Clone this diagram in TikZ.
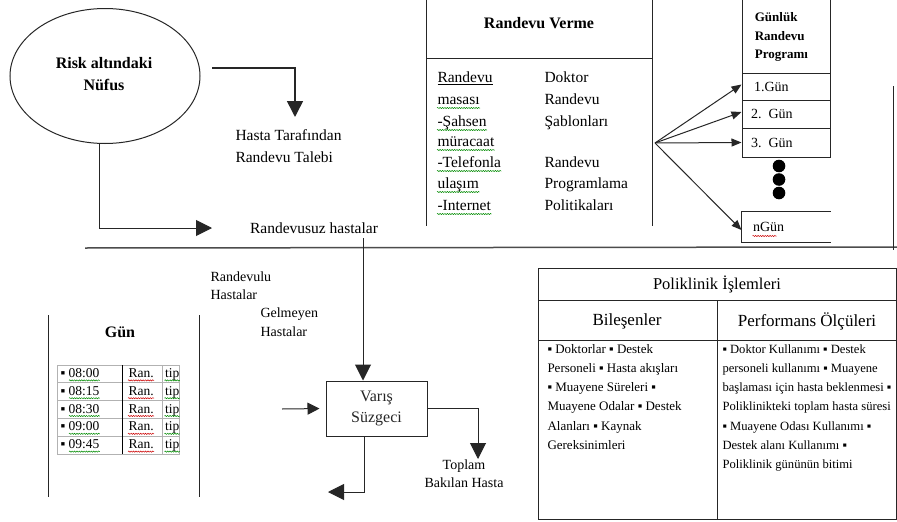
\documentclass[tikz,border=0pt]{standalone}
\usepackage{fontspec}
\setmainfont{Liberation Serif}
\usetikzlibrary{arrows.meta,shapes.geometric,decorations.pathmorphing}
\begin{document}
\begin{tikzpicture}[x=1pt,y=-1pt,line width=1pt,draw=black!85,
  bigtip/.style={-{Triangle[length=16pt,width=16pt]}},
  smalltip/.style={-{Triangle[length=10pt,width=8pt]}},
  midtip/.style={-{Triangle[length=12pt,width=12pt]}},
  txt/.style={inner sep=0pt,font=\fontsize{15.5}{22}\selectfont},
  ln/.style={inner sep=0pt,text height=11pt,text depth=4pt,anchor=west,font=\fontsize{15.5}{20}\selectfont},
  cellln/.style={inner sep=0pt,text height=10pt,text depth=3pt,anchor=west,font=\fontsize{13.5}{15}\selectfont},
  bodyln/.style={inner sep=0pt,text height=9pt,text depth=3pt,anchor=west,font=\fontsize{13}{19}\selectfont},
  bodylnr/.style={bodyln,font=\fontsize{12.6}{19}\selectfont},
  gcell/.style={draw,minimum width=88pt,text width=70pt,inner xsep=9pt,inner ysep=0pt,align=left,font=\fontsize{14}{16}\selectfont},
  sqg/.style={draw=green!55!black,line width=0.5pt,decorate,decoration={snake,amplitude=0.6pt,segment length=2.4pt}},
  sqr/.style={draw=red!80!black,line width=0.5pt,decorate,decoration={snake,amplitude=0.6pt,segment length=2.4pt}}
]
\useasboundingbox (0,0) rectangle (897,522);
\fill[white] (0,0) rectangle (897,522);

% --- Risk population ellipse
\node[draw,ellipse,minimum width=190pt,minimum height=135pt] (risk) at (105,76) {};
\node[align=center,font=\bfseries\fontsize{16}{22}\selectfont] (risktxt) at (104,74) {Risk altındaki\\Nüfus};

\coordinate (a1s) at (212,68);
\coordinate (a1e) at (295,117);
\draw[bigtip,line width=1.6pt] (a1s) -| (a1e);
\node[txt,align=left,anchor=west] (hasta) at (235,146) {Hasta Tarafından\\Randevu Talebi};

\coordinate (a2e) at (212,228);
\draw[bigtip] ([xshift=-6pt]risk.south) |- (a2e);
\node[txt] (rsuz) at (314,228) {Randevusuz hastalar};

% separator
\coordinate (sepL) at (85,248);
\coordinate (sepR) at (897,247);
\draw[line width=1.5pt,draw=black!70] (sepL) -- (sepR);

% --- Randevu Verme
\draw (426,0) -- (426,226);
\draw (652,0) -- (652,226);
\draw (426,58) -- (652,58);
\node[font=\bfseries\fontsize{16}{20}\selectfont] (rv) at (539,23) {Randevu Verme};
\node[ln] (l1) at (437,79) {\underline{Randevu}};
\node[ln] (l2) at (437,101) {masası};
\node[ln] (l3) at (437,123) {-Şahsen};
\node[ln] (l4) at (437,143) {müracaat};
\node[ln] (l5) at (437,164) {-Telefonla};
\node[ln] (l6) at (437,185) {ulaşım};
\node[ln] (l7) at (437,207) {-Internet};
\foreach \n in {l2,l3,l4,l5,l6,l7}
  \draw[sqg] ([yshift=1pt]\n.south west) -- ([yshift=1pt]\n.south east);
\node[ln] (r1) at (544,79) {Doktor};
\node[ln] (r2) at (544,101) {Randevu};
\node[ln] (r3) at (544,123) {Şablonları};
\node[ln] (r4) at (544,164) {Randevu};
\node[ln] (r5) at (544,185) {Programlama};
\node[ln] (r6) at (544,207) {Politikaları};

% --- Günlük Randevu Programı
\draw (742,0) -- (742,157);
\draw (830,0) -- (830,157);
\node[anchor=west,align=left,font=\bfseries\fontsize{13}{18.5}\selectfont] (gtitle) at (751,37) {Günlük\\Randevu\\Programı};
\node[gcell,minimum height=27pt] (g1) at (786,86.5) {\hspace*{3pt}1.Gün};
\node[gcell,minimum height=28pt] (g2) at (786,114) {2. Gün};
\node[gcell,minimum height=29pt] (g3) at (786,142.5) {3. Gün};
\fill (779,166) circle (6.3pt);
\fill (779,179.5) circle (6.3pt);
\fill (779,193) circle (6.3pt);
\node[gcell,draw=none,minimum height=30pt] (gn) at (786,227) {\hspace*{2pt}nGün};
\draw (gn.north east) -- (gn.north west) -- (gn.south west) -- (gn.south east);
\draw[sqr] ([xshift=11pt,yshift=-9pt]gn.west) -- ([xshift=35pt,yshift=-9pt]gn.west);

\coordinate (fan) at (655,143);
\draw[smalltip] (fan) -- ([yshift=2pt]g1.west);
\draw[smalltip] (fan) -- ([yshift=2pt]g2.west);
\draw[smalltip] (fan) -- (g3.west);
\draw[smalltip] (fan) -- ([yshift=-3pt]gn.west);

\draw (893,86) -- (893,250);

% --- Gün block
\draw (48,315) -- (48,497);
\draw (199,315) -- (199,497);
\node[font=\bfseries\fontsize{16}{20}\selectfont] (gun) at (120,332) {Gün};
\draw[draw=gray!60,line width=0.8pt] (57,365) rectangle (179,454);
\foreach \yy in {382.8,400.6,418.4,436.2}
  \draw[draw=gray!60,line width=0.8pt] (57,\yy) -- (179,\yy);
\draw[draw=gray!60,line width=0.8pt] (162,365) -- (162,454);
\draw[draw=black,line width=1pt] (122,365) -- (122,454);
\foreach \t [count=\i] in {08:00,08:15,08:30,09:00,09:45} {
  \node[cellln] (t\i) at (60,{365+17.8*\i-8.9}) {▪ \t};
  \node[cellln] (ra\i) at (128,{365+17.8*\i-8.9}) {Ran.};
  \node[cellln] (tp\i) at (164.5,{365+17.8*\i-8.9}) {tip};
  \draw[sqg] ([xshift=9pt,yshift=0.5pt]t\i.south west) -- ([yshift=0.5pt]t\i.south east);
  \draw[sqr] ([yshift=0.5pt]ra\i.south west) -- ([yshift=0.5pt]ra\i.south east);
  \draw[sqg] ([yshift=0.5pt]tp\i.south west) -- ([yshift=0.5pt]tp\i.south east);
}

\node[anchor=west,align=left,inner sep=0pt,font=\fontsize{14}{18}\selectfont] (rvlu) at (210,286) {Randevulu\\Hastalar};
\node[anchor=west,align=left,inner sep=0pt,font=\fontsize{14}{19}\selectfont] (gelm) at (260,322) {Gelmeyen\\Hastalar};

% --- Varış Süzgeci
\node[draw,minimum width=101pt,minimum height=55pt,align=center,text=black!85,font=\fontsize{16}{21}\selectfont] (varis) at (376.5,408.5) {Varış\\Süzgeci};
\coordinate (vtop) at (363,238);
\draw[bigtip] (vtop) -- ([xshift=-13.5pt]varis.north);
\coordinate (inL) at (282,409);
\draw[midtip,shorten >=6pt] (inL) -- (varis.west);
\coordinate (toptip) at (478,459);
\draw[bigtip] (varis.east) -| (toptip);
\node[align=center,inner sep=0pt,font=\fontsize{14}{18}\selectfont] (toplam) at (464,474) {Toplam\\Bakılan Hasta};
\coordinate (bottip) at (328,492);
\draw[bigtip] ([xshift=-12.5pt]varis.south) |- (bottip);

% --- Poliklinik İşlemleri
\draw (538,268) rectangle (896,519);
\draw (538,300) -- (896,300);
\draw (538,340) -- (896,340);
\draw (717,300) -- (717,519);
\node[font=\fontsize{16.5}{20}\selectfont] (pol) at (717,284) {Poliklinik İşlemleri};
\node[font=\fontsize{17}{20}\selectfont] (bil) at (627,321) {Bileşenler};
\node[font=\fontsize{17}{20}\selectfont] (perf) at (807,321) {Performans Ölçüleri};
\foreach \l [count=\i] in {▪ Doktorlar ▪ Destek,Personeli ▪ Hasta akışları,▪ Muayene Süreleri ▪,Muayene Odalar ▪ Destek,Alanları ▪ Kaynak,Gereksinimleri}
  \node[bodyln] (b\i) at (547,{350+19.3*(\i-1)}) {\l};
\foreach \l [count=\i] in {▪ Doktor Kullanımı ▪ Destek,personeli kullanımı ▪ Muayene,başlaması için hasta beklenmesi ▪,Poliklinikteki toplam hasta süresi,▪ Muayene Odası Kullanımı ▪,Destek alanı Kullanımı ▪,Poliklinik gününün bitimi}
  \node[bodylnr] (p\i) at (722,{350+19.3*(\i-1)}) {\l};
\end{tikzpicture}
\end{document}
